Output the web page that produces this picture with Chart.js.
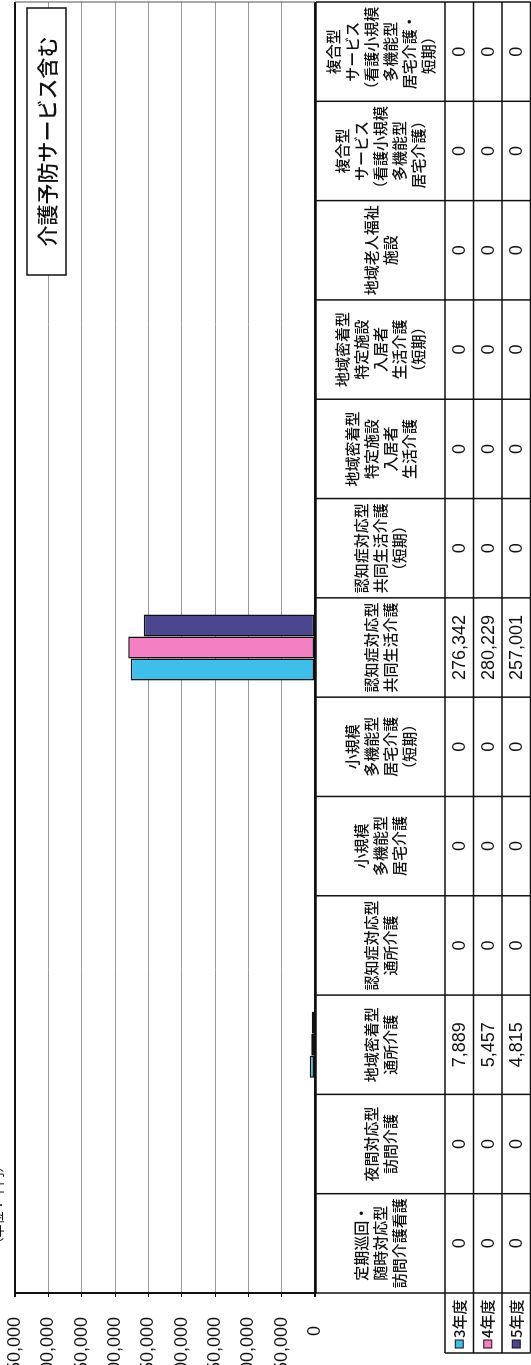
<!DOCTYPE html>
<html>
<head>
<meta charset="utf-8">
<script src="https://cdn.jsdelivr.net/npm/chart.js@4"></script>
<style>
  html, body { margin: 0; padding: 0; background: #fff; overflow: hidden; }
  /* the chart is laid out landscape and turned a quarter left, like the scan */
  #page {
    position: absolute; left: 0; top: 0;
    width: 1365px; height: 531px;
    transform-origin: 0 0;
    transform: translate(0, 1365px) rotate(-90deg);
  }
</style>
</head>
<body>
<div id="page"><canvas id="chart" width="1365" height="531"></canvas></div>
<script>
// categories (one line per array entry, as printed in the data table)
const categories = [
  ['定期巡回・', '随時対応型', '訪問介護看護'],
  ['夜間対応型', '訪問介護'],
  ['地域密着型', '通所介護'],
  ['認知症対応型', '通所介護'],
  ['小規模', '多機能型', '居宅介護'],
  ['小規模', '多機能型', '居宅介護', '（短期）'],
  ['認知症対応型', '共同生活介護'],
  ['認知症対応型', '共同生活介護', '（短期）'],
  ['地域密着型', '特定施設', '入居者', '生活介護'],
  ['地域密着型', '特定施設', '入居者', '生活介護', '（短期）'],
  ['地域老人福祉', '施設'],
  ['複合型', 'サービス', '（看護小規模', '多機能型', '居宅介護）'],
  ['複合型', 'サービス', '（看護小規模', '多機能型', '居宅介護・', '短期）']
];
const seriesNames = ['3年度', '4年度', '5年度'];
const values3 = [0, 0, 7889, 0, 0, 0, 276342, 0, 0, 0, 0, 0, 0];
const values4 = [0, 0, 5457, 0, 0, 0, 280229, 0, 0, 0, 0, 0, 0];
const values5 = [0, 0, 4815, 0, 0, 0, 257001, 0, 0, 0, 0, 0, 0];
const axisMax = 450000;
const axisStep = 50000;
const noteText = '介護予防サービス含む';
const unitText = '（単位：千円）';

const seriesColors = ['#3cc0ea', '#f47fc3', '#4a468f'];
const allValues = [values3, values4, values5];
const ink = '#111';
const jpFont = '"Noto Sans CJK JP"';

// data table under the plot, drawn on the x scale's columns
const dataTable = {
  id: 'dataTable',
  afterDraw(chart) {
    const { ctx, chartArea: area, scales: { x } } = chart;
    const n = categories.length;
    const colW = (area.right - area.left) / n;
    const top = area.bottom + 1;
    const headBottom = top + 129;
    const rowH = 28.5;
    const tableBottom = headBottom + rowH * allValues.length;
    const keyLeft = 12;

    const line = (x1, y1, x2, y2) => {
      ctx.beginPath(); ctx.moveTo(x1, y1); ctx.lineTo(x2, y2); ctx.stroke();
    };

    ctx.save();
    ctx.strokeStyle = ink;
    ctx.lineWidth = 1.5;
    line(area.left, top, area.right, top);
    line(keyLeft, headBottom, area.right, headBottom);
    allValues.forEach((_, r) => line(keyLeft, headBottom + rowH * (r + 1), area.right, headBottom + rowH * (r + 1)));
    for (let i = 0; i <= n; i++) {
      const px = area.left + i * colW;
      line(px, top, px, tableBottom);
    }
    line(keyLeft, headBottom, keyLeft, tableBottom);

    // category names
    ctx.fillStyle = ink;
    ctx.textAlign = 'center';
    ctx.textBaseline = 'middle';
    ctx.font = '500 15px ' + jpFont;
    const lh = 19;
    const cy = (top + headBottom) / 2;
    categories.forEach((lines, i) => {
      const cx = x.getPixelForValue(i);
      lines.forEach((t, k) => ctx.fillText(t, cx, cy + (k - (lines.length - 1) / 2) * lh));
    });

    // value rows with legend keys
    allValues.forEach((vals, r) => {
      const ry = headBottom + rowH * (r + 0.5);
      ctx.fillStyle = seriesColors[r];
      ctx.fillRect(keyLeft + 5, ry - 4, 8, 8);
      ctx.lineWidth = 1;
      ctx.strokeRect(keyLeft + 5, ry - 4, 8, 8);
      ctx.fillStyle = ink;
      ctx.textAlign = 'left';
      ctx.font = '500 15px ' + jpFont;
      ctx.fillText(seriesNames[r], keyLeft + 15, ry);
      ctx.textAlign = 'center';
      ctx.font = '18px "Liberation Sans"';
      vals.forEach((v, i) => ctx.fillText(v.toLocaleString('en-US'), x.getPixelForValue(i), ry + 1));
    });

    // right edge of the plot
    ctx.strokeStyle = '#555';
    ctx.lineWidth = 1;
    line(area.right, area.top, area.right, area.bottom);

    // note box in the upper right of the plot
    const bw = 267, bh = 39;
    const bx = area.right - 6 - bw, by = area.top + 12;
    ctx.fillStyle = '#fff';
    ctx.fillRect(bx, by, bw, bh);
    ctx.strokeStyle = ink;
    ctx.lineWidth = 1.5;
    ctx.strokeRect(bx, by, bw, bh);
    ctx.fillStyle = ink;
    ctx.font = '500 21px ' + jpFont;
    ctx.fillText(noteText, bx + bw / 2, by + bh / 2 + 1);

    // unit caption, mostly cut off by the top edge of the scan
    ctx.font = '13px ' + jpFont;
    ctx.textBaseline = 'bottom';
    ctx.fillText(unitText, 160, 4);
    ctx.restore();
  }
};

const ctx = document.getElementById('chart').getContext('2d');
const chart = new Chart(ctx, {
  type: 'bar',
  data: {
    labels: categories,
    datasets: seriesNames.map((name, i) => ({
      label: name,
      data: allValues[i],
      backgroundColor: seriesColors[i],
      borderColor: ink,
      borderWidth: 1.5,
      borderSkipped: false,
      categoryPercentage: 0.665,
      barPercentage: 1
    }))
  },
  options: {
    responsive: false,
    animation: false,
    devicePixelRatio: 1,
    layout: { padding: { top: 15, right: 2, bottom: 216, left: 0 } },
    plugins: {
      legend: { display: false },
      tooltip: { enabled: false }
    },
    scales: {
      x: { display: false },
      y: {
        min: 0,
        max: axisMax,
        afterFit(scale) {
          scale.width = 72;
          scale.paddingTop = 0;
          scale.paddingBottom = 0;
        },
        ticks: {
          stepSize: axisStep,
          padding: 20,
          color: ink,
          font: { family: 'Liberation Sans', size: 18 },
          callback: v => v === 0 ? '0\u2002' : v.toLocaleString('en-US')
        },
        grid: {
          color: c => (c.tick && (c.tick.value === 0 || c.tick.value === axisMax)) ? ink : '#9a9a9a',
          lineWidth: c => (c.tick && (c.tick.value === 0 || c.tick.value === axisMax)) ? 2 : 1,
          tickColor: ink,
          tickLength: 4
        },
        border: { color: ink, width: 2 }
      }
    }
  },
  plugins: [dataTable]
});
</script>
</body>
</html>
